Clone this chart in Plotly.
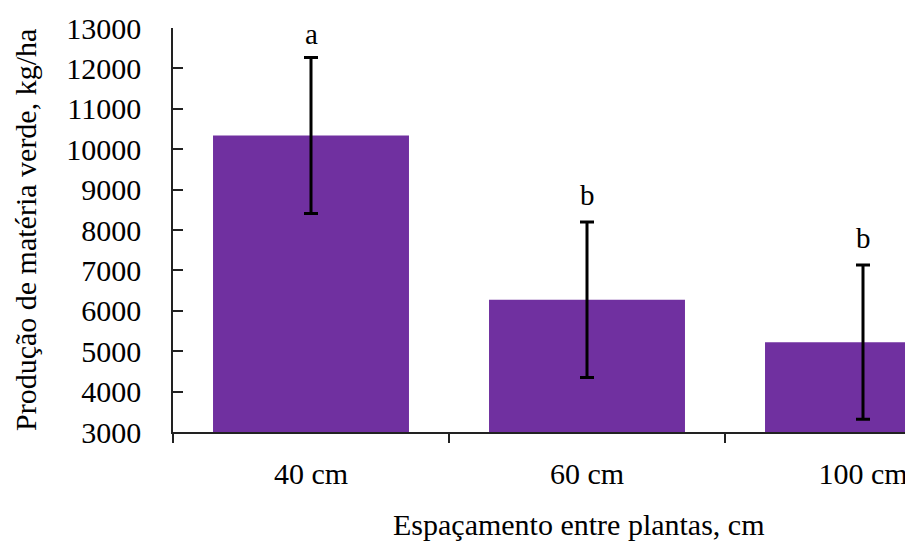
import plotly.graph_objects as go

categories = ["40 cm", "60 cm", "100 cm"]
values = [10340, 6275, 5224]
errors = [1930, 1923, 1911]
letters = ["a", "b", "b"]
y_ticks = [3000, 4000, 5000, 6000, 7000, 8000, 9000, 10000, 11000, 12000, 13000]
x_title = "Espaçamento entre plantas, cm"
y_title = "Produção de matéria verde, kg/ha"

FONT = "Liberation Serif, Times New Roman, serif"

fig = go.Figure()
fig.add_trace(go.Bar(
    x=categories, y=values, width=0.71,
    marker=dict(color="#7030A0", line=dict(width=0)),
    error_y=dict(type="data", array=errors, visible=True,
                 color="black", thickness=3, width=7),
    showlegend=False,
))

for c, v, e, l in zip(categories, values, errors, letters):
    fig.add_annotation(x=c, y=v + e, text=l, showarrow=False,
                       yanchor="middle", yshift=23 if l == "a" else 27,
                       font=dict(family=FONT, size=29, color="black"))

# axis titles
fig.add_annotation(xref="paper", yref="paper", x=0, y=0, yshift=-92,
                   xshift=406, text=x_title, showarrow=False,
                   xanchor="center", yanchor="middle",
                   font=dict(family=FONT, size=30, color="black"))
fig.add_annotation(xref="paper", yref="paper", x=0, y=0.5, xshift=-148,
                   text=y_title, showarrow=False, textangle=-90,
                   xanchor="center", yanchor="middle",
                   font=dict(family=FONT, size=30, color="black"))

# page body has an 8px margin: offset the figure so the plot lands where intended
fig.update_layout(
    width=905, height=535,
    margin=dict(l=165, r=0, t=20, b=111, autoexpand=False),
    paper_bgcolor="white", plot_bgcolor="white",
    font=dict(family=FONT, size=30, color="black"),
)
fig.update_xaxes(
    type="category", range=[-0.5, -0.5 + 740 / 276], automargin=False,
    showline=True, linecolor="#222", linewidth=1.5,
    ticks="outside", ticklen=9, tickcolor="#222", tickwidth=1.5,
    tickson="boundaries", ticklabelstandoff=14,
    showgrid=False,
)
fig.update_yaxes(
    range=[3000, 13000], tickvals=y_ticks, tickformat="d", automargin=False,
    showline=True, linecolor="#222", linewidth=1.5,
    ticks="inside", ticklen=10, tickcolor="#222", tickwidth=1.5,
    ticklabelstandoff=24, showgrid=False, zeroline=False,
)

fig.write_html("out.html")
